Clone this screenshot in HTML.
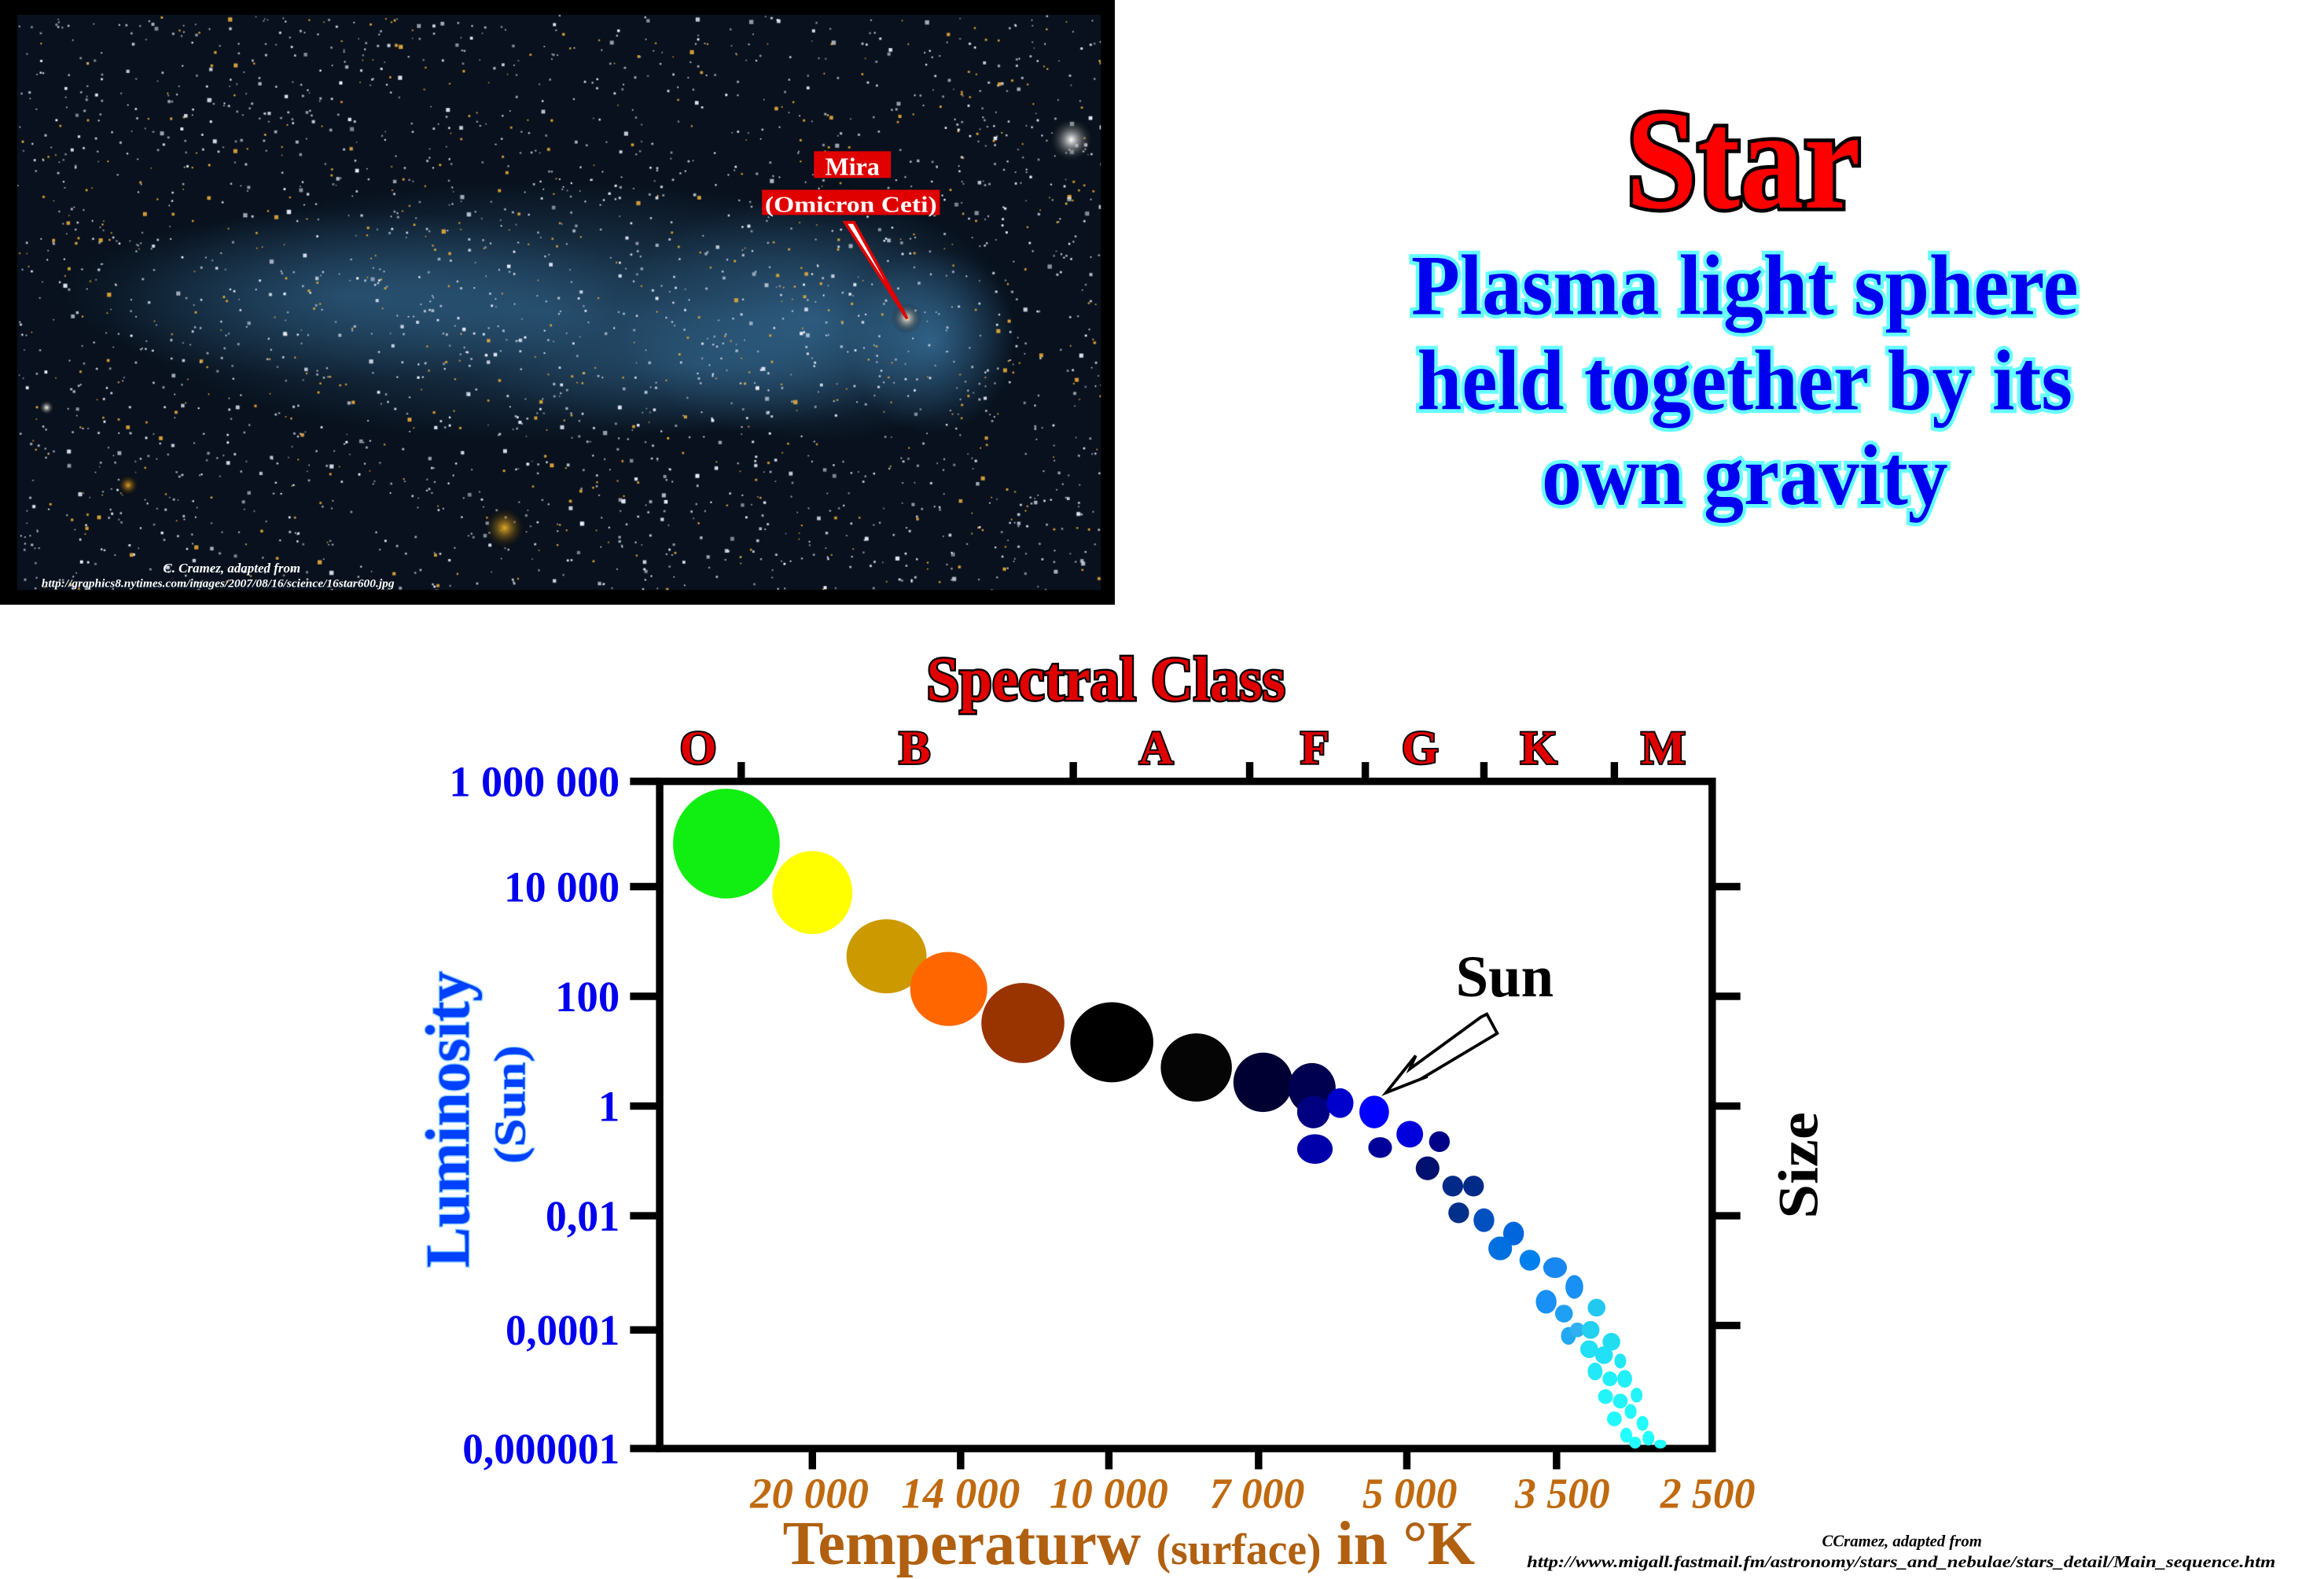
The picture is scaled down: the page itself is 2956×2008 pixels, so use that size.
<!DOCTYPE html>
<html><head><meta charset="utf-8">
<style>
html,body{margin:0;padding:0;background:#fff;}
#wrap{position:relative;width:2956px;height:2008px;overflow:hidden;background:#fff;}
canvas{position:absolute;left:0;top:0;width:1418px;height:769px;}
svg{position:absolute;left:0;top:0;}
text{font-family:"Liberation Serif",serif;font-weight:bold;}
</style></head>
<body><div id="wrap">
<canvas id="c" width="1436" height="779"></canvas>
<svg width="2956" height="2008" viewBox="0 0 1567.7 1065" preserveAspectRatio="none">
<!-- photo annotations -->
<rect x="549" y="102" width="52" height="18" fill="#e00000"/>
<text x="575" y="118" font-size="17" fill="#fff" text-anchor="middle">Mira</text>
<rect x="514" y="128" width="120" height="17" fill="#e00000"/>
<text x="574" y="143" font-size="15" fill="#fff" text-anchor="middle" textLength="116" lengthAdjust="spacingAndGlyphs">(Omicron Ceti)</text>
<polygon points="570,150 576,150 612,215" fill="#fff" stroke="#e00000" stroke-width="2"/>
<text x="110" y="386" font-size="9" fill="#fff" font-style="italic">C. Cramez, adapted from</text>
<text x="28" y="396" font-size="8" fill="#fff" font-style="italic" textLength="238" lengthAdjust="spacingAndGlyphs">http://graphics8.nytimes.com/images/2007/08/16/science/16star600.jpg</text>

<!-- titles -->
<text x="1176" y="140" font-size="96" fill="#ff0000" stroke="#000" stroke-width="5" paint-order="stroke" text-anchor="middle" textLength="158" lengthAdjust="spacingAndGlyphs">Star</text>
<g fill="#0000ee" stroke="#66ffff" stroke-width="5" paint-order="stroke" font-size="58" text-anchor="middle">
<text x="1177" y="212" textLength="450" lengthAdjust="spacingAndGlyphs">Plasma light sphere</text>
<text x="1177" y="276" textLength="442" lengthAdjust="spacingAndGlyphs">held together by its</text>
<text x="1177" y="340" textLength="274" lengthAdjust="spacingAndGlyphs">own gravity</text>
</g>

<!-- chart -->
<text x="746" y="472" font-size="42" fill="#e00000" stroke="#000" stroke-width="2.5" paint-order="stroke" text-anchor="middle" textLength="242" lengthAdjust="spacingAndGlyphs">Spectral Class</text>
<g font-size="32" fill="#e00000" stroke="#000" stroke-width="2" paint-order="stroke" text-anchor="middle">
<text x="471" y="515">O</text><text x="617" y="515">B</text><text x="780" y="515">A</text>
<text x="887" y="515">F</text><text x="958" y="515">G</text><text x="1038" y="515">K</text><text x="1122" y="515">M</text>
</g>
<g stroke="#000" stroke-width="5">
<line x1="500" y1="514" x2="500" y2="527"/><line x1="724" y1="514" x2="724" y2="527"/>
<line x1="843" y1="514" x2="843" y2="527"/><line x1="921" y1="514" x2="921" y2="527"/>
<line x1="1001" y1="514" x2="1001" y2="527"/><line x1="1089" y1="514" x2="1089" y2="527"/>
<line x1="425" y1="527" x2="445" y2="527"/><line x1="425" y1="598" x2="445" y2="598"/>
<line x1="425" y1="672" x2="445" y2="672"/><line x1="425" y1="746" x2="445" y2="746"/>
<line x1="425" y1="820" x2="445" y2="820"/><line x1="425" y1="897" x2="445" y2="897"/>
<line x1="425" y1="977" x2="445" y2="977"/>
<line x1="1155" y1="598" x2="1174" y2="598"/><line x1="1155" y1="672" x2="1174" y2="672"/>
<line x1="1155" y1="746" x2="1174" y2="746"/><line x1="1155" y1="820" x2="1174" y2="820"/>
<line x1="1155" y1="894" x2="1174" y2="894"/>
<line x1="548" y1="977" x2="548" y2="991"/><line x1="648" y1="977" x2="648" y2="991"/>
<line x1="748" y1="977" x2="748" y2="991"/><line x1="849" y1="977" x2="849" y2="991"/>
<line x1="949" y1="977" x2="949" y2="991"/><line x1="1050" y1="977" x2="1050" y2="991"/>
</g>
<rect x="445" y="527" width="710" height="450" fill="none" stroke="#000" stroke-width="5"/>
<g font-size="29" fill="#0000ee" text-anchor="end">
<text x="418" y="537" textLength="115" lengthAdjust="spacingAndGlyphs">1 000 000</text><text x="418" y="608" textLength="78" lengthAdjust="spacingAndGlyphs">10 000</text>
<text x="418" y="682">100</text><text x="418" y="756">1</text>
<text x="418" y="830" textLength="50" lengthAdjust="spacingAndGlyphs">0,01</text><text x="418" y="907" textLength="77" lengthAdjust="spacingAndGlyphs">0,0001</text>
<text x="418" y="987" textLength="106" lengthAdjust="spacingAndGlyphs">0,000001</text>
</g>
<g font-size="29" fill="#c06a10" font-style="italic" text-anchor="middle">
<text x="546" y="1017" textLength="80" lengthAdjust="spacingAndGlyphs">20 000</text><text x="648" y="1017" textLength="80" lengthAdjust="spacingAndGlyphs">14 000</text><text x="748" y="1017" textLength="80" lengthAdjust="spacingAndGlyphs">10 000</text>
<text x="848" y="1017" textLength="64" lengthAdjust="spacingAndGlyphs">7 000</text><text x="951" y="1017" textLength="64" lengthAdjust="spacingAndGlyphs">5 000</text><text x="1054" y="1017" textLength="64" lengthAdjust="spacingAndGlyphs">3 500</text>
<text x="1152" y="1017" textLength="64" lengthAdjust="spacingAndGlyphs">2 500</text>
</g>
<text x="528" y="1055" fill="#b06010" font-size="42" textLength="467" lengthAdjust="spacingAndGlyphs">Temperaturw <tspan font-size="30">(surface)</tspan> in °K</text>
<text transform="translate(316,755) rotate(-90)" font-size="42" fill="#0040ff" stroke="#88ccff" stroke-width="1.5" paint-order="stroke" text-anchor="middle" textLength="200" lengthAdjust="spacingAndGlyphs">Luminosity</text>
<text transform="translate(354,745) rotate(-90)" font-size="30" fill="#0040ff" stroke="#88ccff" stroke-width="1" paint-order="stroke" text-anchor="middle" textLength="80" lengthAdjust="spacingAndGlyphs">(Sun)</text>
<text transform="translate(1226,786) rotate(-90)" font-size="38" fill="#000" text-anchor="middle" textLength="72" lengthAdjust="spacingAndGlyphs">Size</text>
<text x="1015" y="672" font-size="40" fill="#000" text-anchor="middle" font-weight="normal" textLength="66" lengthAdjust="spacingAndGlyphs">Sun</text>
<polygon points="935,737 955,712 951,721 999,686 1003,684 1010,697 958,728 963,726" fill="#fff" stroke="#000" stroke-width="2"/>

<!-- stars -->
<g>
<ellipse cx="490" cy="569" rx="36" ry="37" fill="#11ee11"/>
<ellipse cx="548" cy="602" rx="27" ry="28" fill="#ffff00"/>
<ellipse cx="598" cy="645" rx="27" ry="25" fill="#cc9900"/>
<ellipse cx="640" cy="667" rx="26" ry="25" fill="#ff6600"/>
<ellipse cx="690" cy="690" rx="28" ry="27" fill="#993300"/>
<ellipse cx="750" cy="703" rx="28" ry="27" fill="#000"/>
<ellipse cx="807" cy="720" rx="24" ry="23" fill="#050505"/>
<ellipse cx="852" cy="730" rx="20" ry="20" fill="#000033"/>
<ellipse cx="885" cy="734" rx="16" ry="17" fill="#000050"/>
<ellipse cx="886" cy="750" rx="11" ry="11" fill="#000080"/>
<ellipse cx="887" cy="775" rx="12" ry="10" fill="#0000aa"/>
<ellipse cx="904" cy="744" rx="9" ry="10" fill="#0000cc"/>
<ellipse cx="927" cy="750" rx="10" ry="11" fill="#0000ff"/>
<ellipse cx="951" cy="765" rx="9" ry="9" fill="#0000dd"/>
<ellipse cx="931" cy="774" rx="8" ry="7" fill="#000099"/>
<ellipse cx="971" cy="770" rx="7" ry="7" fill="#000088"/>
<ellipse cx="963" cy="788" rx="8" ry="8" fill="#00106f"/>
<ellipse cx="980" cy="800" rx="7" ry="7" fill="#002a88"/>
<ellipse cx="994" cy="800" rx="7" ry="7" fill="#002a88"/>
<ellipse cx="984" cy="818" rx="7" ry="7" fill="#00308a"/>
<ellipse cx="1001" cy="823" rx="7" ry="8" fill="#0050c0"/>
<ellipse cx="1021" cy="832" rx="7" ry="8" fill="#0066dd"/>
<ellipse cx="1012" cy="842" rx="8" ry="8" fill="#0070e0"/>
<ellipse cx="1032" cy="850" rx="7" ry="7" fill="#0080ee"/>
<ellipse cx="1049" cy="855" rx="8" ry="7" fill="#1888f0"/>
<ellipse cx="1062" cy="868" rx="6" ry="8" fill="#1890f5"/>
<ellipse cx="1043" cy="878" rx="7" ry="8" fill="#1890f5"/>
<ellipse cx="1055" cy="886" rx="6" ry="6" fill="#20a0f5"/>
<ellipse cx="1077" cy="882" rx="6" ry="6" fill="#22c8f0"/>
<ellipse cx="1058" cy="901" rx="5" ry="6" fill="#20a8f0"/>
<ellipse cx="1064" cy="897" rx="5" ry="5" fill="#30b0f0"/>
<ellipse cx="1073" cy="897" rx="6" ry="6" fill="#22d0f0"/>
<ellipse cx="1087" cy="905" rx="6" ry="6" fill="#22ddf0"/>
<ellipse cx="1072" cy="910" rx="6" ry="6" fill="#22e0f5"/>
<ellipse cx="1082" cy="914" rx="6" ry="6" fill="#22e0f5"/>
<ellipse cx="1093" cy="918" rx="4" ry="5" fill="#22e8f5"/>
<ellipse cx="1076" cy="925" rx="5" ry="6" fill="#22e8f8"/>
<ellipse cx="1086" cy="930" rx="5" ry="5" fill="#22f0f8"/>
<ellipse cx="1096" cy="930" rx="5" ry="6" fill="#22f0f8"/>
<ellipse cx="1083" cy="942" rx="5" ry="5" fill="#22f4fa"/>
<ellipse cx="1093" cy="945" rx="5" ry="5" fill="#22f4fa"/>
<ellipse cx="1104" cy="941" rx="4" ry="5" fill="#22f4fa"/>
<ellipse cx="1100" cy="952" rx="4" ry="5" fill="#22f8fc"/>
<ellipse cx="1089" cy="957" rx="5" ry="5" fill="#22f8fc"/>
<ellipse cx="1108" cy="960" rx="4" ry="5" fill="#22fcfc"/>
<ellipse cx="1097" cy="968" rx="4" ry="5" fill="#22ffff"/>
<ellipse cx="1112" cy="970" rx="4" ry="5" fill="#22ffff"/>
<ellipse cx="1103" cy="973" rx="4" ry="4" fill="#22ffff"/>
<ellipse cx="1120" cy="974" rx="4" ry="3" fill="#22ffff"/>
</g>

<text x="1283" y="1043" font-size="11" fill="#000" font-style="italic" text-anchor="middle">CCramez, adapted from</text>
<text x="1030" y="1057" font-size="11" fill="#000" font-style="italic" textLength="505" lengthAdjust="spacingAndGlyphs">http://www.migall.fastmail.fm/astronomy/stars_and_nebulae/stars_detail/Main_sequence.htm</text>
</svg>
</div>
<script>
(function(){
var c=document.getElementById('c'),x=c.getContext('2d');
x.fillStyle='#000';x.fillRect(0,0,1436,779);
x.fillStyle='#08111d';x.fillRect(22,19,1396,741);
x.save();x.beginPath();x.rect(22,19,1396,741);x.clip();
function neb(cx,cy,rx,ry,a){var g=x.createRadialGradient(0,0,0,0,0,1);g.addColorStop(0,'rgba(70,140,190,'+a+')');g.addColorStop(1,'rgba(70,140,190,0)');x.save();x.translate(cx,cy);x.scale(rx,ry);x.fillStyle=g;x.beginPath();x.arc(0,0,1,0,7);x.fill();x.restore();}
neb(700,400,560,170,0.45);neb(1050,410,260,160,0.5);neb(1200,440,110,120,0.55);neb(450,380,380,110,0.35);neb(900,470,300,90,0.3);
var s=12345;function r(){s=(s*16807)%2147483647;return s/2147483647;}
for(var i=0;i<2600;i++){var px=22+r()*1396,py=19+r()*741,q=r();
x.fillStyle=q<0.2?'rgba(230,170,60,0.9)':'rgba(235,240,255,'+(0.5+r()*0.5)+')';
var sz=r()<0.85?1.5+r()*1.5:3+r()*2.5;x.fillRect(px,py,sz,sz);}
function glow(cx,cy,rr,col){var g=x.createRadialGradient(cx,cy,0,cx,cy,rr);g.addColorStop(0,col);g.addColorStop(1,'rgba(0,0,0,0)');x.fillStyle=g;x.beginPath();x.arc(cx,cy,rr,0,7);x.fill();}
glow(1380,180,30,'rgba(255,255,255,1)');glow(650,680,28,'rgba(230,170,40,1)');glow(1168,410,20,'rgba(255,240,220,1)');glow(165,625,14,'rgba(230,160,40,1)');glow(60,525,10,'rgba(255,255,255,1)');
x.restore();
})();
</script>
</body></html>
